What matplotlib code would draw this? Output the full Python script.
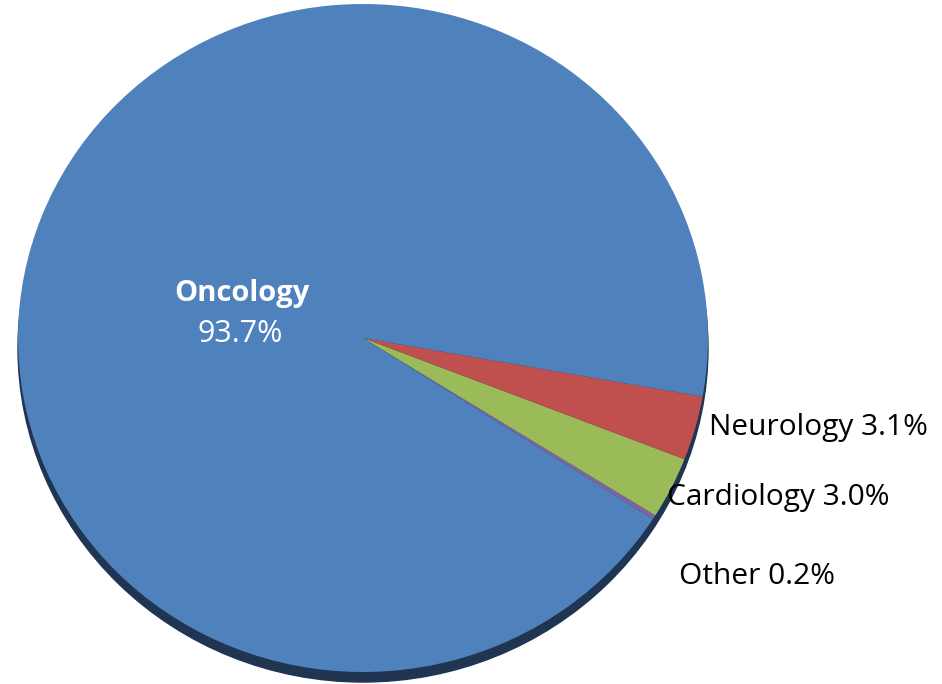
import matplotlib.pyplot as plt
from matplotlib.patches import Ellipse

labels = ["Other", "Cardiology", "Neurology", "Oncology"]
shares = [0.2, 3.0, 3.1, 93.7]
colors = ["#8064a2", "#9bbb59", "#c0504d", "#4f81bd"]

plt.rcParams['font.family'] = ['Open Sans', 'DejaVu Sans']

fig = plt.figure(figsize=(9.42, 6.84), dpi=100)
ax = fig.add_axes([0, 0, 1, 1])

# pie centre / radii in pixels (slightly squashed, like the 3d excel pie)
cx, cy, rx, ry = 363, 338, 345, 334

# dark rim under the pie
ax.add_patch(Ellipse((0, -0.03), 2.0, 2.0, color="#1f3552", zorder=0))

ax.pie(shares, colors=colors, startangle=-32.8, counterclock=True,
       radius=1, center=(0, 0), frame=True,
       wedgeprops=dict(linewidth=0))
ax.set_xlim(-cx / rx, (942 - cx) / rx)
ax.set_ylim(-(684 - cy) / ry, cy / ry)
ax.set_aspect('auto')
ax.axis('off')

def px(x, y):
    return x / 942, 1 - y / 684

fig.text(*px(242, 294), "Oncology", color="white", fontsize=21, fontweight="bold",
         ha="center", va="center")
fig.text(*px(240, 334), "%.1f%%" % shares[3], color="white", fontsize=22,
         ha="center", va="center")
fig.text(*px(709, 428), "Neurology %.1f%%" % shares[2], fontsize=21.5, va="center")
fig.text(*px(667, 498), "Cardiology %.1f%%" % shares[1], fontsize=21.5, va="center")
fig.text(*px(679, 576), "Other %.1f%%" % shares[0], fontsize=21.5, va="center")

fig.savefig("out.png", dpi=100)
